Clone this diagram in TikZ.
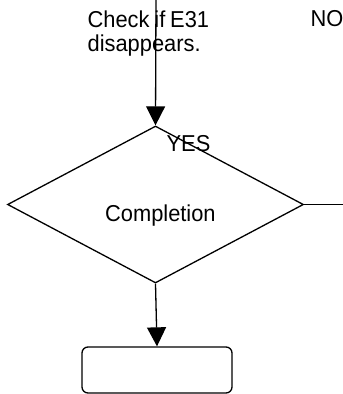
\documentclass[tikz,border=0pt]{standalone}
\usepackage{fontspec}
\setmainfont{Liberation Sans}[FakeStretch=0.95, WordSpace=0.8]
\usetikzlibrary{shapes.geometric,arrows.meta}
\begin{document}
\begin{tikzpicture}[x=1pt,y=-1pt,
  line width=1.3pt,
  flow/.style={draw=black, line width=1.3pt},
  arrowhd/.style={-{Triangle[width=19pt,length=19pt]}},
  txt/.style={font=\fontsize{23pt}{24pt}\selectfont, inner sep=0pt, align=left},
  decision/.style={diamond, draw, line width=1.3pt, minimum width=296pt, minimum height=157pt, inner sep=0pt},
  endbox/.style={rectangle, rounded corners=6pt, draw, line width=1.3pt, minimum width=150pt, minimum height=46pt, inner sep=0pt}]
  \useasboundingbox (0,0) rectangle (343,394);

  % decision and terminal box
  \node[decision] (dia) at (155.5,204.5) {};
  \node[endbox] (box) at (157,370) {};

  % free ends of the connectors
  \coordinate (topin) at (156,-2);
  \coordinate (rightout) at (345,204.5);

  % connectors
  \draw[flow, arrowhd] (topin) -- (dia.north);
  \draw[flow, arrowhd] (dia.south) -- (box.north);
  \draw[flow] (dia.east) -- (rightout);

  % labels
  \node[txt, anchor=base west] (chk) at (87,51.5) {Check if E31\\disappears.};
  \node[txt, anchor=base west] (no) at (310,26) {NO};
  \node[txt, anchor=base west] (yes) at (166,151) {YES};
  \node[txt, anchor=base west] (comp) at (104.5,221.5) {Completion};
\end{tikzpicture}
\end{document}
